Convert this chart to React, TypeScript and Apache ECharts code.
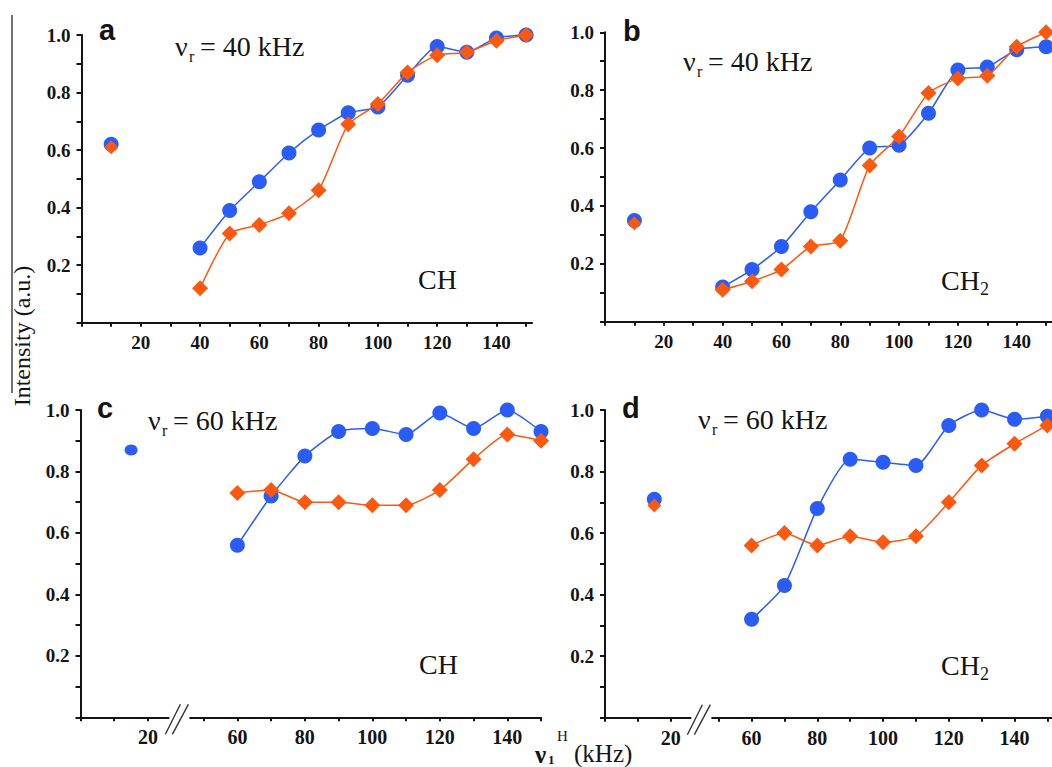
import React, { useEffect, useRef } from "react";
import * as echarts from "echarts";

// ---------------- data ----------------
const X_40 = [40, 50, 60, 70, 80, 90, 100, 110, 120, 130, 140, 150];
const X_60 = [60, 70, 80, 90, 100, 110, 120, 130, 140, 150];

// panel a : νr = 40 kHz, CH
const aBlue = [0.26, 0.39, 0.49, 0.59, 0.67, 0.73, 0.75, 0.86, 0.96, 0.94, 0.99, 1.0];
const aOrange = [0.12, 0.31, 0.34, 0.38, 0.46, 0.69, 0.76, 0.87, 0.93, 0.94, 0.98, 1.0];
const aFirst = [10, 0.62, 0.61]; // x, blue, orange

// panel b : νr = 40 kHz, CH2
const bBlue = [0.12, 0.18, 0.26, 0.38, 0.49, 0.6, 0.61, 0.72, 0.87, 0.88, 0.94, 0.95];
const bOrange = [0.11, 0.14, 0.18, 0.26, 0.28, 0.54, 0.64, 0.79, 0.84, 0.85, 0.95, 1.0];
const bFirst = [10, 0.35, 0.34];

// panel c : νr = 60 kHz, CH
const cBlue = [0.56, 0.72, 0.85, 0.93, 0.94, 0.92, 0.99, 0.94, 1.0, 0.93];
const cOrange = [0.73, 0.74, 0.7, 0.7, 0.69, 0.69, 0.74, 0.84, 0.92, 0.9];
const cFirst = [15, 0.87, null];

// panel d : νr = 60 kHz, CH2
const dBlue = [0.32, 0.43, 0.68, 0.84, 0.83, 0.82, 0.95, 1.0, 0.97, 0.98];
const dOrange = [0.56, 0.6, 0.56, 0.59, 0.57, 0.59, 0.7, 0.82, 0.89, 0.95];
const dFirst = [15, 0.71, 0.69];

const Y_TICKS = [0, 0.1, 0.2, 0.3, 0.4, 0.5, 0.6, 0.7, 0.8, 0.9, 1.0];
const Y_LABELS = [0.2, 0.4, 0.6, 0.8, 1.0];
const X_TICKS_FULL = [0, 10, 20, 30, 40, 50, 60, 70, 80, 90, 100, 110, 120, 130, 140, 150];
const X_LABELS_FULL = [20, 40, 60, 80, 100, 120, 140];
const X_TICKS_BROKEN = [0, 10, 20, 50, 60, 70, 80, 90, 100, 110, 120, 130, 140, 150];
const X_LABELS_BROKEN = [20, 60, 80, 100, 120, 140];

const LETTERS = ["a", "b", "c", "d"];
const SPIN = ["40", "40", "60", "60"];
const GROUPS = ["CH", "CH", "CH", "CH"];
const GROUP_SUB = ["", "2", "", "2"];

// ---------------- layout / style ----------------
const BLUE = "#2a5cf7";
const ORANGE = "#fb5810";
const INK = "#141414";
const SERIF = '"Liberation Serif", "Times New Roman", serif';
const SANS = '"Liberation Sans", Arial, sans-serif';

type Panel = {
  left: number; top: number; height: number; k: number; max: number;
  shift: number; breakAt: number; xs: number[]; blue: number[]; orange: number[];
  first: (number | null)[]; title: [number, number]; label: [number, number];
  letter: [number, number]; xFont: number;
};

const PANELS: Panel[] = [
  { left: 81.5, top: 35, height: 287.7, k: 2.964, max: 152, shift: 0, breakAt: 0,
    xs: X_40, blue: aBlue, orange: aOrange, first: aFirst,
    title: [175, 46.7], label: [418, 279.5], letter: [99, 30], xFont: 19 },
  { left: 605, top: 32.3, height: 289.4, k: 2.944, max: 152, shift: 0, breakAt: 0,
    xs: X_40, blue: bBlue, orange: bOrange, first: bFirst,
    title: [683, 61.7], label: [941, 280], letter: [623, 31], xFont: 19 },
  { left: 80.5, top: 410, height: 307.3, k: 3.374, max: 136.5, shift: 13.5, breakAt: 29.3,
    xs: X_60, blue: cBlue, orange: cOrange, first: cFirst,
    title: [148, 420], label: [419, 664], letter: [97, 408], xFont: 20 },
  { left: 605, top: 410, height: 307.7, k: 3.3, max: 136, shift: 15.4, breakAt: 29.2,
    xs: X_60, blue: dBlue, orange: dOrange, first: dFirst,
    title: [698, 419.3], label: [941, 665], letter: [622, 408], xFont: 20 },
];

const disp = (p: Panel, v: number) => (p.shift && v > 30 ? v - p.shift : v);
const real = (p: Panel, d: number) => (p.shift && d > 30 ? d + p.shift : d);

function text(x: number, y: number, s: string, font: string, extra: any = {}) {
  return {
    type: "text", x, y, z: 100, silent: true, ...extra,
    style: { text: s, font, fill: INK, align: "left", textAlign: "left",
      verticalAlign: "middle", textVerticalAlign: "middle" },
  };
}

function buildOption() {
  const grid: any[] = [];
  const xAxis: any[] = [];
  const yAxis: any[] = [];
  const series: any[] = [];
  const graphic: any[] = [];

  PANELS.forEach((p, i) => {
    grid.push({ left: p.left, top: p.top, width: p.max * p.k, height: p.height });
    const broken = p.shift > 0;
    xAxis.push({
      gridIndex: i, type: "value", min: 0, max: p.max,
      axisLine: { onZero: false, lineStyle: { color: INK, width: 2 } },
      axisTick: {
        customValues: (broken ? X_TICKS_BROKEN : X_TICKS_FULL).map((v) => disp(p, v)),
        length: 4, lineStyle: { color: INK, width: 2 },
      },
      axisLabel: {
        customValues: (broken ? X_LABELS_BROKEN : X_LABELS_FULL).map((v) => disp(p, v)),
        formatter: (v: number) => String(Math.round(real(p, v))),
        fontFamily: SERIF, fontWeight: "bold", fontSize: p.xFont, color: INK, margin: 10,
      },
      splitLine: { show: false },
    });
    yAxis.push({
      gridIndex: i, type: "value", min: 0, max: 1,
      axisLine: { show: true, onZero: false, lineStyle: { color: INK, width: 2 } },
      axisTick: { show: true, customValues: Y_TICKS, length: 5, lineStyle: { color: INK, width: 2 } },
      axisLabel: {
        customValues: Y_LABELS, formatter: (v: number) => v.toFixed(1),
        fontFamily: SERIF, fontWeight: "bold", fontSize: 19, color: INK, margin: 11,
      },
      splitLine: { show: false },
    });

    const common = { xAxisIndex: i, yAxisIndex: i, clip: false, animation: false };
    series.push({
      ...common, type: "line", smooth: 0.2, symbol: "circle", symbolSize: 15, z: 2,
      data: p.xs.map((x, j) => [disp(p, x), p.blue[j]]),
      lineStyle: { color: BLUE, width: 1.5 }, itemStyle: { color: BLUE, opacity: 1 },
    });
    series.push({
      ...common, type: "line", smooth: 0.2, symbol: "diamond", symbolSize: 16, z: 3,
      data: p.xs.map((x, j) => [disp(p, x), p.orange[j]]),
      lineStyle: { color: ORANGE, width: 1.5 }, itemStyle: { color: ORANGE, opacity: 1 },
    });
    const fx = p.first[0] as number;
    series.push({
      ...common, type: "scatter", symbol: "circle", z: 2,
      symbolSize: i === 2 ? [13, 11] : 15,
      data: [[disp(p, fx), p.first[1]]], itemStyle: { color: BLUE, opacity: 1 },
    });
    if (p.first[2] != null) {
      series.push({
        ...common, type: "scatter", symbol: "diamond", symbolSize: 14, z: 3,
        data: [[disp(p, fx), p.first[2]]], itemStyle: { color: ORANGE, opacity: 1 },
      });
    }

    // panel letter
    graphic.push(text(p.letter[0], p.letter[1], LETTERS[i], `bold 29px ${SANS}`));
    // νr = xx kHz
    const [tx, ty] = p.title;
    graphic.push(text(tx, ty, "ν", `28px ${SERIF}`));
    graphic.push(text(tx + 14, ty + 10, "r", `16px ${SERIF}`));
    graphic.push(text(tx + 25, ty, `= ${SPIN[i]} kHz`, `28px ${SERIF}`));
    // CH / CH2
    const [lx, ly] = p.label;
    graphic.push(text(lx, ly, GROUPS[i], `28px ${SERIF}`));
    if (GROUP_SUB[i]) graphic.push(text(lx + 39, ly + 9, GROUP_SUB[i], `18px ${SERIF}`));

    // axis break marks
    if (broken) {
      const bx = p.left + p.k * p.breakAt;
      const by = p.top + p.height;
      graphic.push({ type: "rect", z: 99, silent: true,
        shape: { x: bx - 10, y: by - 3, width: 20, height: 6 }, style: { fill: "#fff" } });
      graphic.push({ type: "line", z: 100, silent: true,
        shape: { x1: bx - 14, y1: by + 17, x2: bx + 1, y2: by - 13 },
        style: { stroke: "#333", lineWidth: 1.4 } });
      graphic.push({ type: "line", z: 100, silent: true,
        shape: { x1: bx - 7, y1: by + 17, x2: bx + 9, y2: by - 13 },
        style: { stroke: "#333", lineWidth: 1.4 } });
    }
  });

  // y-axis title with its overline
  graphic.push({ type: "line", z: 100, silent: true,
    shape: { x1: 12, y1: 15, x2: 12, y2: 393 }, style: { stroke: INK, lineWidth: 1.2 } });
  graphic.push({
    type: "text", x: 22, y: 336, rotation: Math.PI / 2, z: 100, silent: true,
    style: { text: "Intensity (a.u.)", font: `24px ${SERIF}`, fill: INK,
      align: "center", textAlign: "center", verticalAlign: "middle", textVerticalAlign: "middle" },
  });
  // x-axis title ν1H (kHz)
  graphic.push(text(535, 754, "ν", `bold 25px ${SERIF}`));
  graphic.push(text(548, 759, "1", `bold 13px ${SERIF}`));
  graphic.push(text(557, 736, "H", `15px ${SERIF}`));
  graphic.push(text(574, 753, "(kHz)", `25px ${SERIF}`));

  return { animation: false, backgroundColor: "#ffffff", grid, xAxis, yAxis, series, graphic };
}

export default function App() {
  const ref = useRef<HTMLDivElement>(null);
  useEffect(() => {
    if (!ref.current) return;
    const chart = echarts.init(ref.current, undefined, { renderer: "svg" });
    chart.setOption(buildOption());
    return () => chart.dispose();
  }, []);
  return (
    <div
      ref={ref}
      style={{ position: "fixed", left: 0, top: 0, width: 1052, height: 767, background: "#fff" }}
    />
  );
}
